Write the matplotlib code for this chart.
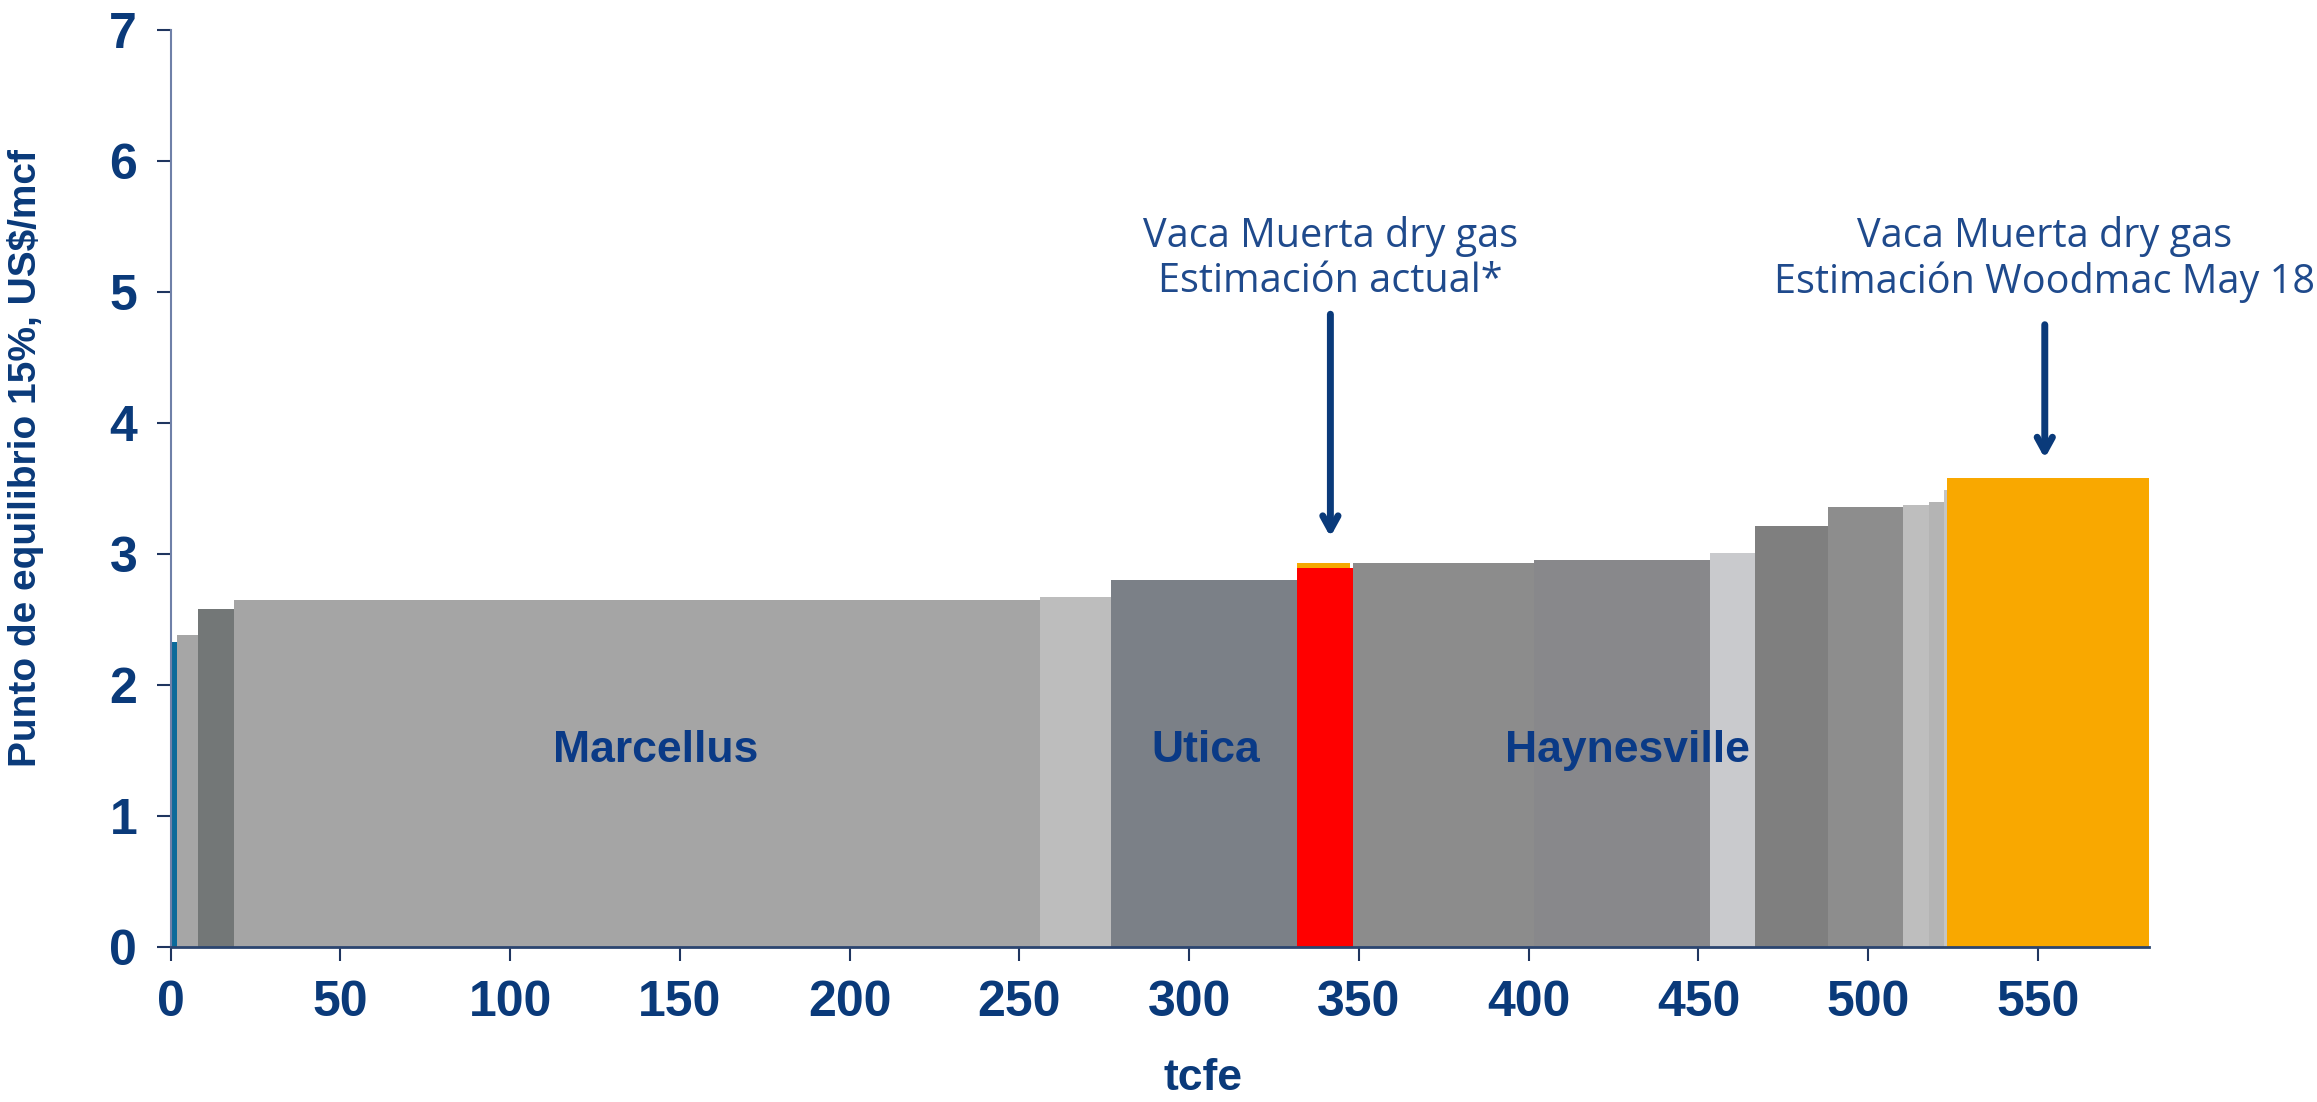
import matplotlib
matplotlib.use('Agg')
import matplotlib.pyplot as plt
from matplotlib import font_manager

# cumulative supply blocks: start (tcfe), width (tcfe), breakeven (US$/mcf)
starts = [0, 1.8, 8.2, 18.8, 256, 277.1, 331.8, 331.8, 348.3, 401.7, 453.5,
          466.6, 488.2, 510.3, 518, 522.3, 523.2]
widths = [1.8, 6.4, 10.6, 237.2, 21.1, 54.7, 15.5, 16.5, 53.4, 51.8, 13.1,
          21.6, 22.1, 7.7, 4.3, 0.9, 59.5]
heights = [2.33, 2.38, 2.58, 2.65, 2.67, 2.80, 2.93, 2.89, 2.93, 2.955, 3.005,
           3.21, 3.355, 3.37, 3.40, 3.49, 3.58]
colors = ['#0b6a9a', '#a6a6a6', '#737777', '#a5a5a5', '#bdbdbd', '#7b8087',
          '#f5a800', '#ff0000', '#8c8c8c', '#88888b', '#c9cacd', '#7f7f7f',
          '#8d8d8d', '#bebebe', '#b4b4b4', '#c4c4c4', '#f9a800']

basins = ['Marcellus', 'Utica', 'Haynesville']
basin_x = [143, 305, 429]

notes = ['Vaca Muerta dry gas\nEstimación actual*',
         'Vaca Muerta dry gas\nEstimación Woodmac May 18']
note_x = [341.6, 552]
arrow_x = [341.6, 552]
arrow_top = [4.83, 4.75]
arrow_tip = [3.13, 3.73]

navy = '#0a3a7a'
plt.rcParams['font.family'] = ['Liberation Sans', 'DejaVu Sans']

installed = {f.name for f in font_manager.fontManager.ttflist}
if 'Liberation Sans Narrow' in installed:
    tick_font, tick_size = 'Liberation Sans Narrow', 41
else:
    tick_font, tick_size = 'Liberation Sans', 36

fig = plt.figure(figsize=(23.17, 11.02), dpi=100, facecolor='white')
ax = fig.add_axes([0.0736, 0.1407, 0.8539, 0.8321])

ax.bar(starts, heights, width=widths, align='edge', color=colors, linewidth=0)

for name, x in zip(basins, basin_x):
    ax.text(x, 1.5, name, ha='center', va='center', fontsize=32,
            fontweight='bold', color='#0a3a86')

for txt, tx, ax_x, top, tip in zip(notes, note_x, arrow_x, arrow_top, arrow_tip):
    ax.text(tx, 5.25, txt, ha='center', va='center', fontsize=28.5,
            family='Open Sans', color='#1f4a8c', linespacing=1.15)
    ax.annotate('', xy=(ax_x, tip), xytext=(ax_x, top),
                arrowprops=dict(arrowstyle='->,head_length=1.0,head_width=0.55',
                                lw=5, color=navy, shrinkA=0, shrinkB=0))

ax.set_xlim(0, 582.7)
ax.set_ylim(0, 7)
ax.set_xticks(range(0, 551, 50))
ax.set_yticks(range(0, 8))

for s in ['top', 'right']:
    ax.spines[s].set_visible(False)
ax.spines['left'].set_color('#6f80a8')
ax.spines['bottom'].set_color('#2b4570')
ax.spines['left'].set_linewidth(1.5)
ax.spines['bottom'].set_linewidth(2)

ax.tick_params(axis='both', direction='out', length=10, width=1.5,
               color='#1f355f', labelcolor=navy, pad=14)
for lab in ax.get_xticklabels() + ax.get_yticklabels():
    lab.set_fontweight('bold')
    lab.set_family(tick_font)
    lab.set_fontsize(tick_size)

ax.set_ylabel('Punto de equilibrio 15%, US$/mcf', fontsize=28,
              fontweight='bold', color=navy)
ax.yaxis.set_label_coords(-0.064, 0.533)
ax.set_xlabel('tcfe', fontsize=32, fontweight='bold', color=navy)
ax.xaxis.set_label_coords(0.522, -0.121)

plt.savefig('out.png', dpi=100, facecolor='white')
